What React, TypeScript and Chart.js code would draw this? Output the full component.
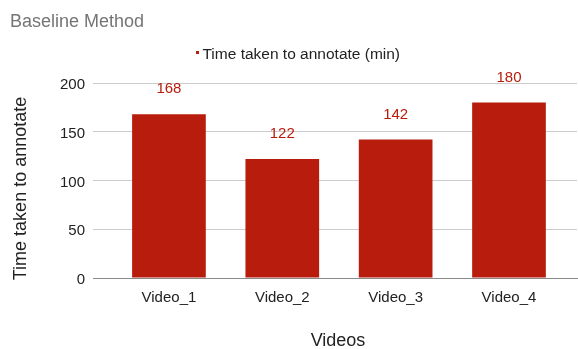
import React, { useEffect, useRef } from 'react';
import { Chart, registerables } from 'chart.js';

Chart.register(...registerables);

// Data
const categories = ['Video_1', 'Video_2', 'Video_3', 'Video_4'];
const timeTaken = [168, 122, 142, 180];
const yTickValues = [0, 50, 100, 150, 200];

// Text
const chartTitle = 'Baseline Method';
const seriesLabel = 'Time taken to annotate (min)';
const xAxisTitle = 'Videos';
const yAxisTitle = 'Time taken to annotate';

const FONT = 'Arial, "Liberation Sans", sans-serif';
const BAR_COLOR = '#b71c0c';
const TEXT_COLOR = '#222222';

const WIDTH = 578;
const HEIGHT = 349;

// Title, legend, axis titles and value labels drawn on top of the chart
const decorations = {
  id: 'decorations',
  afterDraw(chart: any) {
    const { ctx, chartArea } = chart;
    ctx.save();

    // chart title
    ctx.font = `18px ${FONT}`;
    ctx.fillStyle = '#757575';
    ctx.textAlign = 'left';
    ctx.textBaseline = 'alphabetic';
    ctx.fillText(chartTitle, 10, 27);

    // legend
    ctx.font = `15.5px ${FONT}`;
    const tw = ctx.measureText(seriesLabel).width;
    const sw = 3;
    const gap = 3.5;
    const legendCenter = chartArea.left + 205;
    const lx = legendCenter - (sw + gap + tw) / 2;
    ctx.fillStyle = BAR_COLOR;
    ctx.fillRect(lx, 51, sw, sw);
    ctx.fillStyle = TEXT_COLOR;
    ctx.fillText(seriesLabel, lx + sw + gap, 59);

    // axis titles
    ctx.font = `18px ${FONT}`;
    ctx.fillStyle = TEXT_COLOR;
    ctx.textAlign = 'center';
    ctx.textBaseline = 'middle';
    ctx.fillText(xAxisTitle, (chartArea.left + chartArea.right) / 2 + 3, 341);
    ctx.save();
    ctx.translate(21, (chartArea.top + chartArea.bottom) / 2 + 8);
    ctx.rotate(-Math.PI / 2);
    ctx.fillText(yAxisTitle, 0, 0);
    ctx.restore();

    // value labels above bars
    const meta = chart.getDatasetMeta(0);
    ctx.font = `15px ${FONT}`;
    ctx.fillStyle = BAR_COLOR;
    ctx.textAlign = 'center';
    ctx.textBaseline = 'middle';
    meta.data.forEach((bar: any, i: number) => {
      ctx.fillText(String(timeTaken[i]), bar.x, bar.y - 25);
    });

    ctx.restore();
  },
};

export default function App() {
  const canvasRef = useRef<HTMLCanvasElement | null>(null);

  useEffect(() => {
    const canvas = canvasRef.current;
    if (!canvas) return;

    const chart = new Chart(canvas, {
      type: 'bar',
      data: {
        labels: categories,
        datasets: [
          {
            label: seriesLabel,
            data: timeTaken,
            backgroundColor: BAR_COLOR,
            borderWidth: 0,
            categoryPercentage: 1,
            barPercentage: 0.65,
          },
        ],
      },
      options: {
        responsive: false,
        animation: false,
        devicePixelRatio: 1,
        layout: { padding: { top: 83, right: 1, bottom: 0, left: 0 } },
        plugins: {
          legend: { display: false },
          title: { display: false },
          tooltip: { enabled: false },
        },
        scales: {
          x: {
            offset: false,
            grid: { display: false, drawTicks: false },
            border: { display: true, color: '#8a8a8a', width: 1 },
            ticks: {
              color: TEXT_COLOR,
              font: { family: FONT, size: 15 },
              padding: 11,
              maxRotation: 0,
              autoSkip: false,
            },
            afterBuildTicks(scale: any) {
              // uneven outer margins around the category band
              scale._startValue = -0.67;
              scale._valueRange = 3 + 0.67 + 0.6;
            },
            afterFit(scale: any) {
              scale.height = 71;
            },
          },
          y: {
            min: 0,
            max: 200,
            grid: {
              drawTicks: false,
              color: (c: any) => (c.tick && c.tick.value === 0 ? '#8a8a8a' : '#cccccc'),
            },
            border: { display: false },
            ticks: {
              color: TEXT_COLOR,
              font: { family: FONT, size: 15 },
              padding: 8,
              labelOffset: 2,
            },
            afterBuildTicks(scale: any) {
              scale.ticks = yTickValues.map((v) => ({ value: v }));
            },
            afterFit(scale: any) {
              scale.width = 93;
            },
          },
        },
      },
      plugins: [decorations],
    });

    return () => chart.destroy();
  }, []);

  return (
    <div style={{ position: 'absolute', left: 0, top: 0, width: WIDTH, height: HEIGHT, background: '#fff' }}>
      <canvas ref={canvasRef} width={WIDTH} height={HEIGHT} style={{ width: WIDTH, height: HEIGHT, display: 'block' }} />
    </div>
  );
}
